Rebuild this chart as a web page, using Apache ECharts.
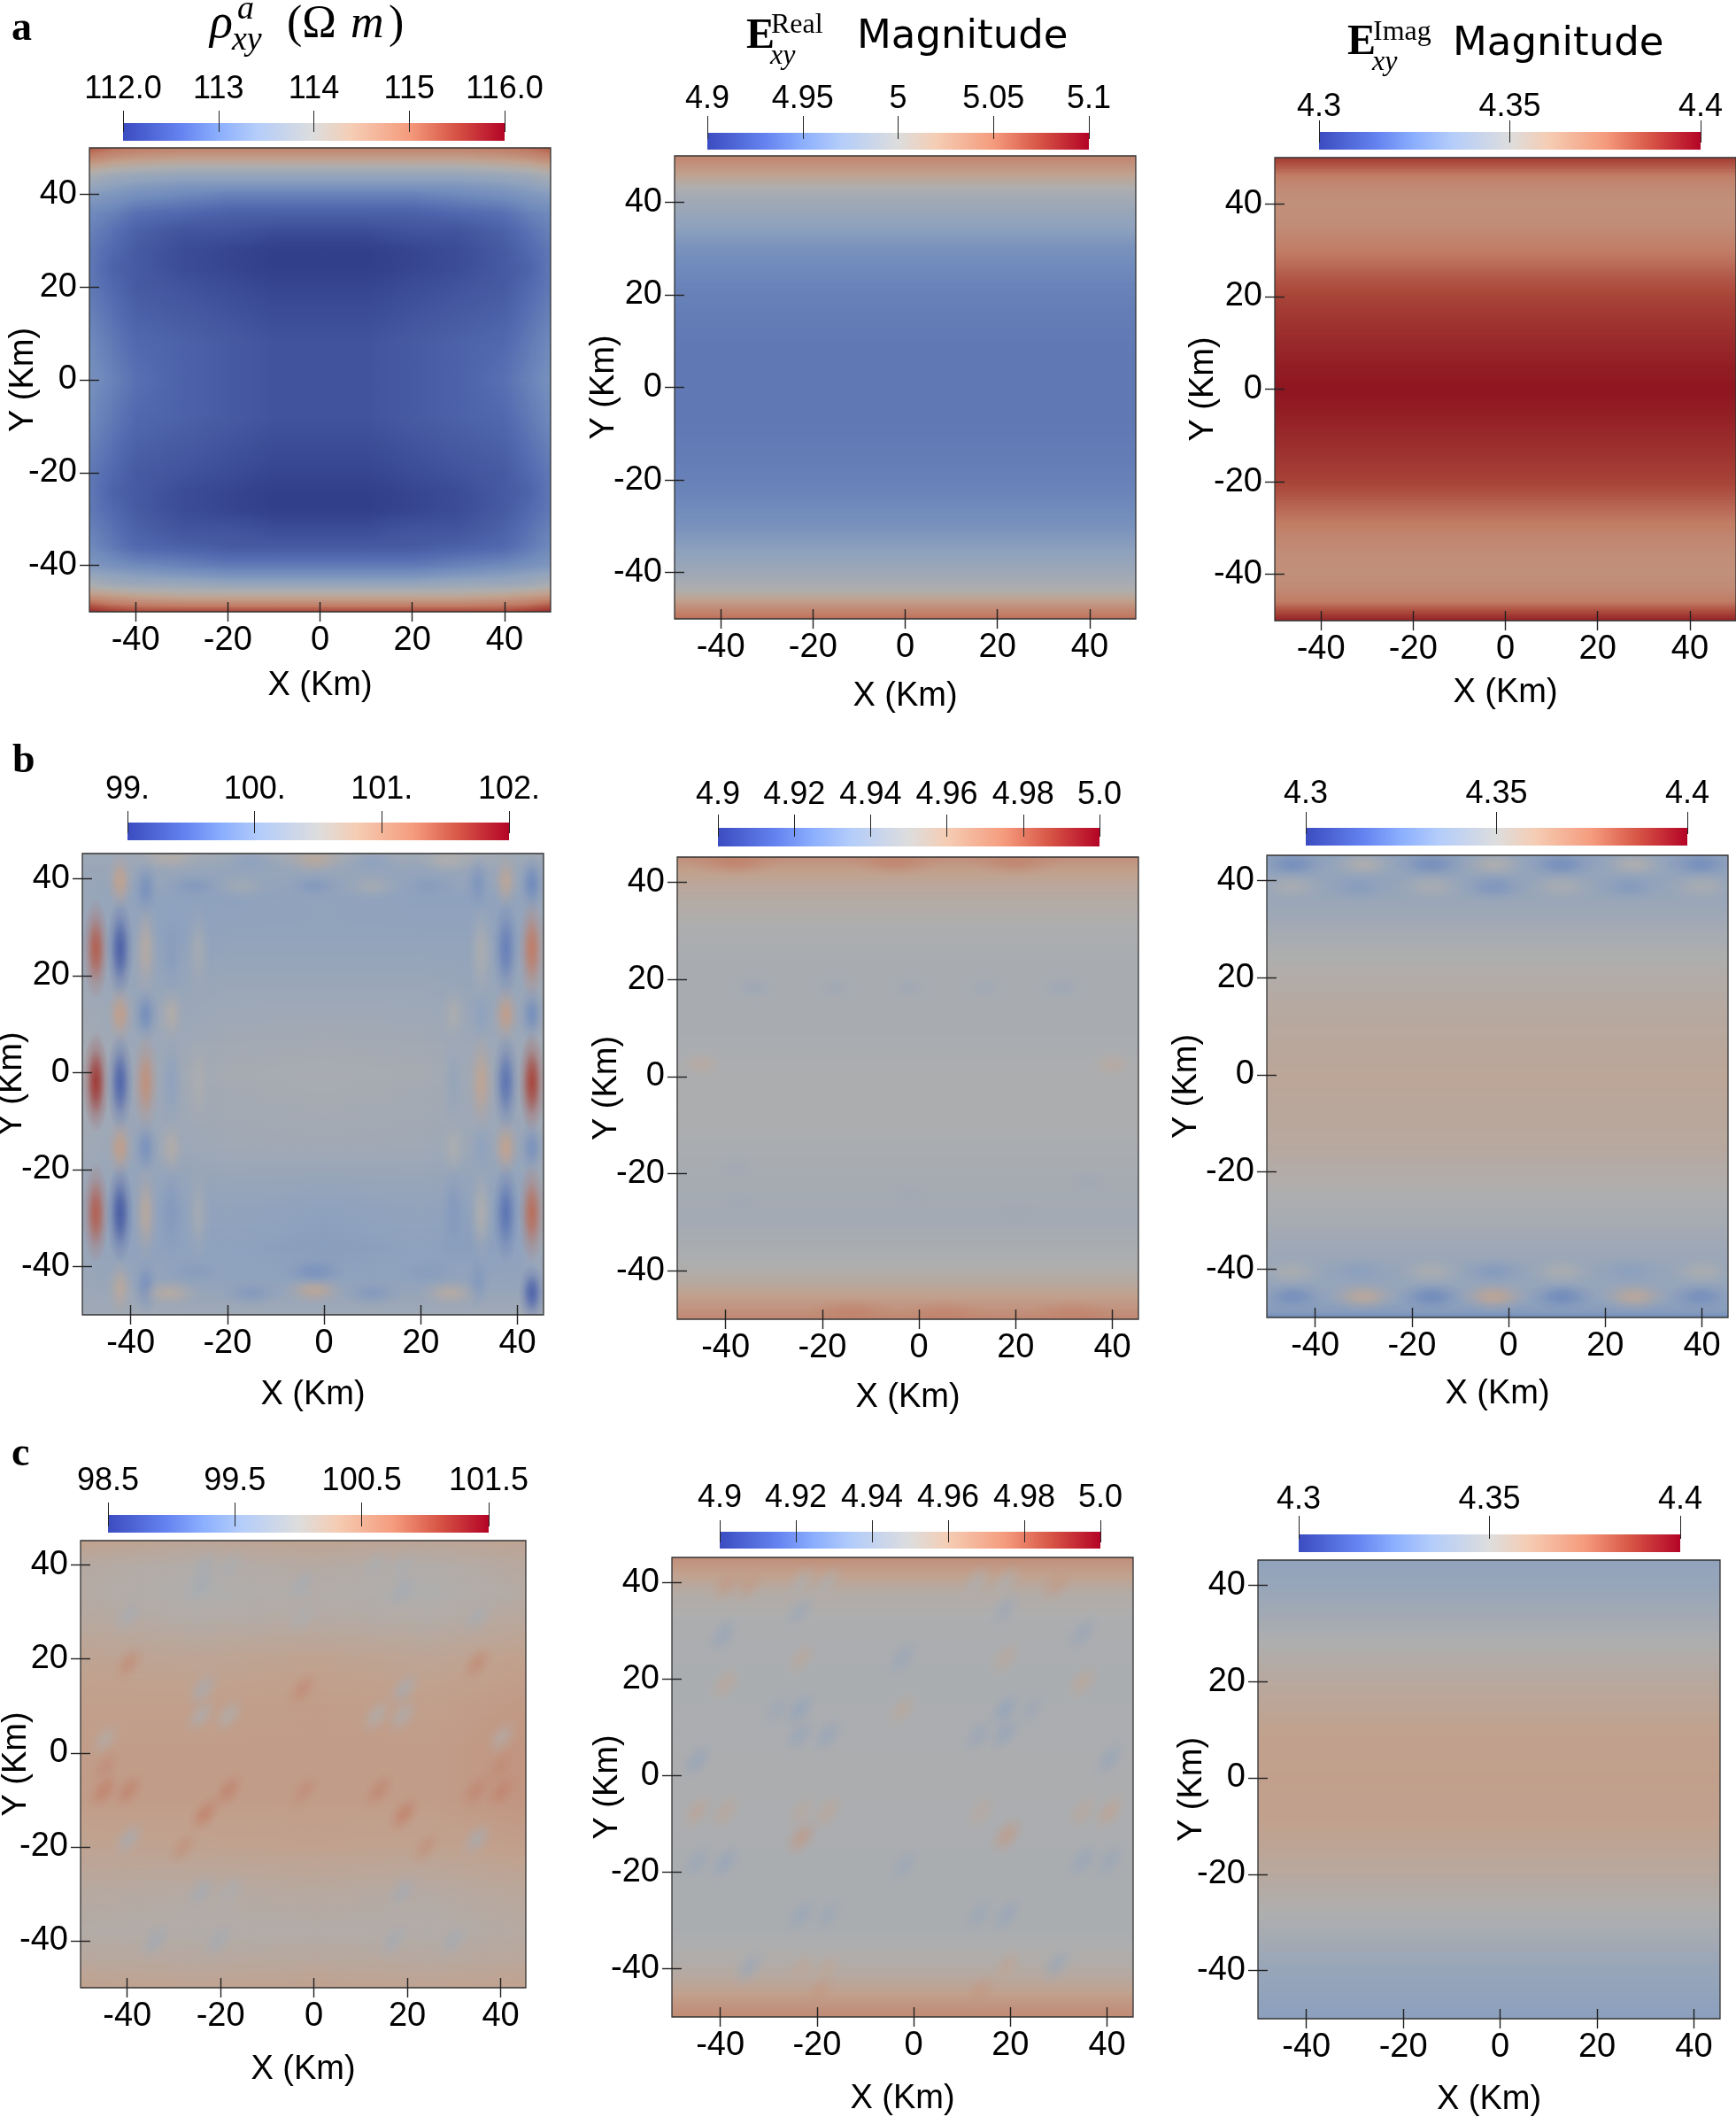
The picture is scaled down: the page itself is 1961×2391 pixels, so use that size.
<!DOCTYPE html>
<html><head><meta charset="utf-8">
<style>html,body{margin:0;padding:0;background:#fff}#c{width:1961px;height:2391px}</style>
<script src="https://cdn.jsdelivr.net/npm/echarts@6/dist/echarts.min.js"></script>
</head><body><div id="c"></div>
<script>
/* ---------- shared tick values ---------- */
const axisTicks=[-40,-20,0,20,40];
/* ---------- row a ---------- */
const a1X=[-50,-45,-40,-30,-20,-10,0,10,20,30,40,45,50];
const a1Y=[50,48,46,44,42,40,36,32,28,24,20,14,8,0,-8,-14,-20,-24,-28,-32,-36,-40,-42,-44,-46,-48,-50];
const a1V=[
[115.3,115.1,115.0,114.9,114.9,114.9,114.9,114.9,114.9,114.9,115.0,115.1,115.3],
[114.9,114.7,114.6,114.5,114.5,114.5,114.5,114.5,114.5,114.5,114.6,114.7,114.9],
[114.4,114.2,114.1,114.0,114.0,114.0,114.0,114.0,114.0,114.0,114.1,114.2,114.4],
[113.9,113.7,113.6,113.5,113.5,113.5,113.5,113.5,113.5,113.5,113.6,113.7,113.9],
[113.6,113.4,113.3,113.2,113.2,113.2,113.2,113.2,113.2,113.2,113.3,113.4,113.6],
[113.3,113.2,113.1,113.0,112.9,112.9,112.9,112.9,112.9,113.0,113.1,113.2,113.3],
[113.0,112.9,112.7,112.6,112.5,112.5,112.5,112.5,112.5,112.6,112.7,112.9,113.0],
[112.9,112.7,112.5,112.3,112.3,112.2,112.2,112.2,112.3,112.3,112.5,112.7,112.9],
[112.8,112.6,112.4,112.2,112.1,112.0,112.0,112.0,112.1,112.2,112.4,112.6,112.8],
[112.8,112.5,112.4,112.2,112.1,112.0,112.0,112.0,112.1,112.2,112.4,112.5,112.8],
[112.8,112.6,112.4,112.3,112.2,112.1,112.1,112.1,112.2,112.3,112.4,112.6,112.8],
[112.9,112.7,112.5,112.4,112.3,112.2,112.2,112.2,112.3,112.4,112.5,112.7,112.9],
[113.0,112.8,112.6,112.5,112.4,112.3,112.3,112.3,112.4,112.5,112.6,112.8,113.0],
[113.1,112.9,112.7,112.5,112.4,112.3,112.3,112.3,112.4,112.5,112.7,112.9,113.1],
[113.0,112.8,112.6,112.5,112.4,112.3,112.3,112.3,112.4,112.5,112.6,112.8,113.0],
[112.9,112.7,112.5,112.4,112.3,112.2,112.2,112.2,112.3,112.4,112.5,112.7,112.9],
[112.8,112.6,112.4,112.3,112.2,112.1,112.1,112.1,112.2,112.3,112.4,112.6,112.8],
[112.8,112.5,112.4,112.2,112.1,112.0,112.0,112.0,112.1,112.2,112.4,112.5,112.8],
[112.8,112.6,112.4,112.2,112.1,112.0,112.0,112.0,112.1,112.2,112.4,112.6,112.8],
[112.9,112.7,112.5,112.3,112.3,112.2,112.2,112.2,112.3,112.3,112.5,112.7,112.9],
[113.0,112.8,112.6,112.5,112.4,112.4,112.4,112.4,112.4,112.5,112.6,112.8,113.0],
[113.2,113.1,113.0,112.9,112.8,112.8,112.8,112.8,112.8,112.9,113.0,113.1,113.2],
[113.5,113.4,113.3,113.2,113.1,113.1,113.1,113.1,113.1,113.2,113.3,113.4,113.5],
[113.9,113.7,113.6,113.6,113.5,113.5,113.5,113.5,113.5,113.6,113.6,113.7,113.9],
[114.4,114.3,114.2,114.1,114.1,114.1,114.1,114.1,114.1,114.1,114.2,114.3,114.4],
[115.1,114.9,114.8,114.7,114.7,114.7,114.7,114.7,114.7,114.7,114.8,114.9,115.1],
[115.8,115.6,115.5,115.5,115.5,115.5,115.5,115.5,115.5,115.5,115.5,115.6,115.8]];
const edgeX=[-50,50];
const a2Y=[50,48,46,44,42,40,37,34,30,26,22,16,8,0,-8,-16,-22,-26,-30,-34,-37,-40,-42,-44,-46,-48,-50];
const a2V=[5.044,5.032,5.020,5.006,4.994,4.986,4.976,4.968,4.956,4.950,4.946,4.942,4.940,4.940,4.940,4.942,4.946,4.950,4.956,4.966,4.974,4.984,4.992,5.002,5.020,5.040,5.056];
const a3Y=[50,48,46,44,42,40,36,32,28,24,20,16,10,5,0,-5,-10,-16,-20,-24,-28,-32,-36,-40,-43,-46,-48,-50];
const a3V=[4.390,4.382,4.374,4.370,4.368,4.367,4.368,4.372,4.377,4.383,4.388,4.391,4.395,4.398,4.400,4.398,4.395,4.391,4.388,4.382,4.376,4.371,4.368,4.367,4.369,4.375,4.386,4.397];
/* ---------- row b ---------- */
const bEdgeX=[-50,45.4];
const b1X=[-50,-40,-30,-20,0,20,30,40,45.4];
const b1Y=[45.2,42,36,28,15,0,-15,-28,-36,-42,-50];
const b1V=[
[100.3,100.3,100.4,100.3,100.4,100.3,100.4,100.3,100.3],
[100.2,100.2,100.2,100.15,100.2,100.15,100.2,100.2,100.2],
[100.2,100.1,100.05,100.05,100.1,100.05,100.05,100.1,100.2],
[100.2,100.1,100.05,100.1,100.1,100.1,100.1,100.1,100.3],
[100.3,100.2,100.2,100.25,100.25,100.25,100.2,100.2,100.3],
[100.4,100.25,100.3,100.38,100.42,100.38,100.3,100.25,100.4],
[100.3,100.2,100.25,100.3,100.32,100.3,100.25,100.2,100.3],
[100.2,100.05,100.05,100.1,100.05,100.1,100.05,100.05,100.3],
[100.2,100.05,100.05,100.05,100.0,100.05,100.0,100.05,100.3],
[100.2,100.15,100.1,100.05,100.05,100.05,100.1,100.1,100.2],
[100.3,100.3,100.3,100.3,100.3,100.3,100.3,100.3,100.3]];
/* tall main lobes */
const b1Tall=[[-47.2,25.5,101.45],[-47.2,-2,101.75],[-47.2,-29,101.45],[43,25.5,101.25],[43,-2,101.65],[43,-29,101.35],
[-42.2,25.5,99.35],[-42.2,-2,99.4],[-42.2,-29,99.3],[37.6,25.5,99.65],[37.6,-2,99.55],[37.6,-29,99.55],
[-36.9,25.5,100.6],[-36.9,-2,101.0],[-36.9,-29,100.65],[32.5,25,100.45],[32.5,-2,100.75],[32.5,-29,100.5],
[-31.6,25,100.0],[-31.6,-2,100.05],[-31.6,-29,99.95],[-26,25,100.35],[-26,-2,100.45],[-26,-29,100.35],[26.8,-29,99.95],[26.8,-2,100.15]];
/* short side lobes */
const b1Short=[[-42.2,12,100.85],[-42.2,-15.5,100.85],[-36.9,12,99.8],[-36.9,-15.5,99.85],[-31.6,12,100.55],[-31.6,-15.5,100.55],
[37.6,12,100.85],[37.6,-15.5,100.8],[43,12,99.8],[43,-15.5,99.85],[32.5,12,100.05],[32.5,-15.5,100.05],[26.8,12,100.45],[26.8,-15.5,100.45],
[-42.2,39.5,100.8],[-36.9,38,99.85],[37.6,39.5,100.7],[43,39,99.75],[31.8,39,99.9],
[-42.2,-44.5,100.65],[-36.9,-44,99.85],[43,-45.5,99.4],[31.8,-43,99.95]];
/* flat lobes along top and bottom */
const b1Flat=[[-32,44.5,100.55],[-15,43.5,100.05],[-2,44,100.65],[10,43.5,100.05],[25.6,44,100.5],[-27,38.5,99.95],[-2,38.5,99.95],[21.7,38.5,100.0],[-17,38.5,100.3],[10,38.5,100.35],
[-32,-45.5,100.6],[-15,-45.5,99.95],[-2,-45,100.7],[10,-45.5,99.95],[26,-45.5,100.6],[-27,-41,100.0],[-2,-41,99.85],[21.7,-41,100.0]];
const b2Y=[45.2,43,40,36,30,23,10,0,-10,-22,-30,-38,-42,-45,-48,-50];
const b2V=[4.968,4.962,4.957,4.953,4.949,4.947,4.947,4.949,4.949,4.946,4.945,4.949,4.954,4.960,4.966,4.970];
const b2Spots=[[-34,18.4,4.943],[-17.3,18.4,4.944],[-2,18.4,4.944],[13.5,18.4,4.944],[29.5,18.4,4.943],[-45,2.5,4.954],[40,2.5,4.954],
[-38,-19,4.944],[-2,-24,4.944],[-37,-26,4.944],[35,-22,4.944],[20,-28,4.944]];
const b2Rims=[[-38,44.5,4.972],[-5,44.5,4.971],[20,44.5,4.971],[-14,-49,4.972],[5,-49.5,4.972],[32,-49.5,4.972]];
const b3Y=[45.2,40,36,30,24,15,0,-15,-24,-31,-36,-40,-45,-49,-50];
const b3V=[4.336,4.338,4.340,4.345,4.350,4.354,4.357,4.355,4.350,4.346,4.342,4.339,4.338,4.332,4.325];
const b3Waves=[[-44.6,43.4,4.327],[-16,43.4,4.327],[11,43.4,4.327],[39.7,43.4,4.327],[-30,43.4,4.350],[-3,43.4,4.350],[26,43.4,4.350],
[-31,38.7,4.333],[-3,38.7,4.330],[25,38.7,4.332],[-45,38.7,4.347],[-16,38.7,4.347],[11,38.7,4.347],[40,38.7,4.347],
[-44.6,-45.7,4.327],[-16,-45.7,4.325],[11,-45.7,4.325],[39.7,-45.7,4.327],[-30,-45.7,4.356],[-3,-45.7,4.358],[26,-45.7,4.356],
[-31,-40.5,4.334],[-3,-40.5,4.332],[25,-40.5,4.334],[-45,-40.5,4.348],[-16,-40.5,4.348],[11,-40.5,4.348],[40,-40.5,4.348]];
/* ---------- row c ---------- */
const c1X=[-50,-25,0,25,45.4];
const c1Y=[45.2,40,34,28,20,10,0,-10,-20,-30,-38,-44,-50];
const c1V=[
[100.30,100.22,100.26,100.22,100.26],
[100.12,100.05,100.12,100.05,100.15],
[100.10,100.00,100.05,100.00,100.10],
[100.15,100.08,100.12,100.08,100.18],
[100.27,100.24,100.28,100.24,100.32],
[100.33,100.33,100.36,100.33,100.40],
[100.36,100.36,100.36,100.36,100.45],
[100.36,100.36,100.36,100.36,100.45],
[100.27,100.28,100.30,100.28,100.34],
[100.13,100.10,100.14,100.10,100.18],
[100.08,100.05,100.07,100.05,100.12],
[100.16,100.14,100.16,100.14,100.18],
[100.30,100.27,100.30,100.27,100.30]];
const c1Blobs=[[-23.8,13.6,99.9],[-24.2,8,99.95],[-18.3,8,100.0],[19.3,13.6,99.9],[19,8,99.95],[13.5,8,100.0],[-39.7,29.4,99.9],[-24,36,99.85],[-23.5,39.7,99.9],[-18,39.7,99.95],[19,34.6,99.85],[19,39.7,99.95],[13,39.7,99.95],[35,29,99.9],[-44.7,2.9,100.05],[40.3,3.3,100.05],[-39.7,-18.4,99.9],[34.9,-18.4,99.9],[-24,-29.5,99.85],[-18,-29.5,99.95],[19,-29.5,99.85],[-34,-40,99.8],[-20.6,-40,99.85],[17,-40,99.85],[29.8,-40,99.85],[-2.4,29,99.95],[-2.4,36,99.9],
[-23.4,-13,100.72],[-45,-8,100.72],[-39.7,-8,100.68],[-18.3,-8,100.68],[19.3,-13,100.72],[14,-8,100.64],[34.8,-8,100.64],[40.3,-8,100.68],[-2.4,13.6,100.58],[-39.7,19,100.55],[35,19,100.58],[-28,-20,100.5],[24,-20,100.5],[-44.7,-3,100.55],[40,-3,100.58],[-2,-8,100.55]];
const c2Y=[45.2,42,38,32,20,0,-20,-32,-38,-42,-45,-48,-50];
const c2V=[4.968,4.961,4.953,4.949,4.948,4.949,4.948,4.948,4.951,4.955,4.960,4.966,4.969];
const c2Blobs=[[-23.6,13.7,4.936],[-23.6,8.4,4.939],[-17.8,8.4,4.939],[18.9,13.7,4.936],[18.9,8.8,4.938],[13.5,8.4,4.940],[-39.4,29.2,4.939],[-44.8,3.1,4.938],[40.5,3.5,4.939],[-39,-18,4.938],[-44.8,-18,4.940],[35,-17.7,4.939],[40.5,-17.7,4.940],[-23.2,-28.8,4.939],[-17.8,-28.8,4.941],[19.3,-28.8,4.939],[13.5,-28.8,4.941],[-2.4,24.3,4.940],[-2,-18.6,4.941],[35,29.6,4.940],[-34,-39.6,4.941],[29.7,-39,4.941],[-28.2,13.7,4.942],[24.3,13.7,4.942],[-23.6,34,4.942],[18.9,34.5,4.942],
[-23.2,-12.8,4.964],[19.3,-12.4,4.963],[-44.8,-7.5,4.958],[-39,-7.5,4.957],[-23.2,-7.5,4.955],[-17.8,-7.5,4.957],[13.9,-7.5,4.955],[35,-7.5,4.956],[40.5,-7.5,4.959],[-39,19,4.957],[35,19.5,4.957],[-2.4,13.7,4.956],[-23.2,24.3,4.956],[18.9,24.3,4.956],[-38.6,39.8,4.963],[-34,40,4.963],[29.7,40,4.963],[-23.2,40,4.950],[-18,39.8,4.950],[13,40,4.950],[19,40,4.950],[-23.2,-40,4.957],[-18,-40,4.957],[19.3,-39.5,4.958],[13.6,-45,4.964],[-19.6,-45,4.964]];
const c3Y=[45.2,40,34,28,20,10,0,-10,-20,-28,-34,-40,-46,-50];
const c3V=[4.336,4.339,4.344,4.350,4.355,4.360,4.361,4.360,4.355,4.350,4.345,4.339,4.336,4.334];
/* ---------- colour bars ---------- */
const barRangeA1=[112,116],barTicksA1=[112,113,114,115,116],barLabelsA1=['112.0','113','114','115','116.0'];
const barRangeA2=[4.9,5.1],barTicksA2=[4.9,4.95,5,5.05,5.1],barLabelsA2=['4.9','4.95','5','5.05','5.1'];
const barRangeE=[4.3,4.4],barTicksE=[4.3,4.35,4.4],barLabelsE=['4.3','4.35','4.4'];
const barRangeB1=[99,102],barTicksB1=[99,100,101,102],barLabelsB1=['99.','100.','101.','102.'];
const barRangeM=[4.9,5.0],barTicksM=[4.9,4.92,4.94,4.96,4.98,5.0],barLabelsM=['4.9','4.92','4.94','4.96','4.98','5.0'];
const barRangeC1=[98.5,101.5],barTicksC1=[98.5,99.5,100.5,101.5],barLabelsC1=['98.5','99.5','100.5','101.5'];

/* ---------- colour map ---------- */
const STOPS=[[0,[59,76,192]],[.15,[100,130,240]],[.25,[140,175,254]],[.35,[180,205,250]],[.5,[221,221,221]],[.6,[245,205,180]],[.75,[245,155,125]],[.87,[215,85,70]],[1,[180,4,38]]];
function cmap(t){t=Math.max(0,Math.min(1,t));for(let i=1;i<STOPS.length;i++){if(t<=STOPS[i][0]){const a=STOPS[i-1],b=STOPS[i],f=(t-a[0])/(b[0]-a[0]);return a[1].map((v,k)=>v+(b[1][k]-v)*f);}}return STOPS[STOPS.length-1][1];}
/* the surface in the plots is shaded: the same colour map, dimmed and slightly desaturated */
function lit(t,al){const c=cmap(t);const m=.77;const s=c.map(v=>v*m+4);
  if(c[2]>c[0])s[2]-=(c[2]-c[0])*.1;
  if(t>.85)s[1]+=(t-.85)*100;
  const q=s.map(Math.round);return al===undefined?`rgb(${q})`:`rgba(${q},${al})`;}
const G=echarts.graphic;

/* ---------- panels (layout in pixels) ---------- */
const P=[
{g:[101,167,521,524],dx:[-50,50],dy:[-50,50],X:a1X,Y:a1Y,V:a1V,r:barRangeA1,bar:[139,139,431,20],ti:10,tu:14,ll:40,bt:barTicksA1,bl:barLabelsA1,xg:85,yg:75},
{g:[762,176,521,523],dx:[-50,50],dy:[-50,50],X:edgeX,Y:a2Y,V:a2V,r:barRangeA2,bar:[799,150,431,19],ti:7,tu:19,ll:40,bt:barTicksA2,bl:barLabelsA2,xg:89,yg:80},
{g:[1440,178,521,523],dx:[-50,50],dy:[-50,50],X:edgeX,Y:a3Y,V:a3V,r:barRangeE,bar:[1490,149,431,20],ti:12,tu:13,ll:30,bt:barTicksE,bl:barLabelsE,xg:83,yg:81},
{g:[93,964,521,521],dx:bEdgeX,dy:[-50,45.2],X:b1X,Y:b1Y,V:b1V,r:barRangeB1,bar:[144,929,431,20],ti:12,tu:13,ll:39,bt:barTicksB1,bl:barLabelsB1,xg:92,yg:80,
  L:[{d:b1Tall,rx:2.8,ry:10.5,tilt:0,a:1},{d:b1Short,rx:2.8,ry:6,tilt:0,a:1},{d:b1Flat,rx:6.5,ry:3,tilt:0,a:1}]},
{g:[765,968,521,522],dx:bEdgeX,dy:[-50,45.2],X:edgeX,Y:b2Y,V:b2V,r:barRangeM,bar:[811,935,431,21],ti:10,tu:15,ll:39,bt:barTicksM,bl:barLabelsM,xg:90,yg:80,
  L:[{d:b2Spots,rx:5,ry:3,tilt:0,a:1},{d:b2Rims,rx:10,ry:3.5,tilt:0,a:1}]},
{g:[1431,966,521,522],dx:bEdgeX,dy:[-50,45.2],X:edgeX,Y:b3Y,V:b3V,r:barRangeE,bar:[1475,935,431,20],ti:7,tu:18,ll:40,bt:barTicksE,bl:barLabelsE,xg:88,yg:91,
  L:[{d:b3Waves,rx:7.5,ry:3.2,tilt:0,a:1}]},
{g:[91,1740,503,505],dx:bEdgeX,dy:[-50,45.2],X:c1X,Y:c1Y,V:c1V,r:barRangeC1,bar:[122,1711,430,20],ti:13,tu:14,ll:40,bt:barTicksC1,bl:barLabelsC1,xg:94,yg:73,
  L:[{d:c1Blobs,rx:3,ry:5,tilt:-.65,a:.72}]},
{g:[759,1759,521,519],dx:bEdgeX,dy:[-50,45.2],X:edgeX,Y:c2Y,V:c2V,r:barRangeM,bar:[813,1730,430,19],ti:12,tu:13,ll:40,bt:barTicksM,bl:barLabelsM,xg:94,yg:73,
  L:[{d:c2Blobs,rx:3,ry:5,tilt:-.65,a:.72}]},
{g:[1421,1762,522,518],dx:bEdgeX,dy:[-50,45.2],X:edgeX,Y:c3Y,V:c3V,r:barRangeE,bar:[1467,1733,431,20],ti:5,tu:21,ll:41,bt:barTicksE,bl:barLabelsE,xg:93,yg:75}
];

const FS=38,FF='"Liberation Sans",Arial,sans-serif';
const grid=[],xAxis=[],yAxis=[],series=[];
P.forEach(p=>{
  const gi=grid.length;
  grid.push({left:p.g[0],top:p.g[1],width:p.g[2],height:p.g[3],outerBoundsMode:'none'});
  const axisCommon={type:'value',splitLine:{show:false},axisLine:{show:false,onZero:false},z:10,nameMoveOverlap:false,
    axisTick:{show:true,length:22,customValues:axisTicks,lineStyle:{color:'#222',width:1.4}},
    nameLocation:'middle',nameTextStyle:{fontSize:FS,fontFamily:FF,color:'#000'},
    axisLabel:{customValues:axisTicks,fontSize:FS,fontFamily:FF,color:'#000'}};
  xAxis.push({...axisCommon,gridIndex:gi,position:'bottom',offset:-11,min:p.dx[0],max:p.dx[1],name:'X (Km)',nameGap:p.xg+11-20,
    axisLabel:{...axisCommon.axisLabel,margin:25}});
  yAxis.push({...axisCommon,gridIndex:gi,position:'left',offset:-11,min:p.dy[0],max:p.dy[1],name:'Y (Km)',nameGap:p.yg+11-20,
    axisLabel:{...axisCommon.axisLabel,margin:25}});
  const cells=[];
  for(let r=0;r<p.Y.length-1;r++)for(let c=0;c<p.X.length-1;c++){
    const v=(i,j)=>Array.isArray(p.V[i])?p.V[i][j]:p.V[i];
    cells.push([p.X[c],p.Y[r],p.X[c+1],p.Y[r+1],v(r,c),v(r,c+1),v(r+1,c),v(r+1,c+1)]);
  }
  const T=v=>(v-p.r[0])/(p.r[1]-p.r[0]);
  const base={type:'custom',coordinateSystem:'cartesian2d',xAxisIndex:gi,yAxisIndex:gi,silent:true,animation:false,clip:true};
  series.push({...base,data:cells,encode:{x:[0,2],y:[1,3]},renderItem:(pr,api)=>{
    const a=api.coord([api.value(0),api.value(1)]),b=api.coord([api.value(2),api.value(3)]);
    const v=[4,5,6,7].map(i=>api.value(i));
    const h=b[1]-a[1],n=Math.max(1,Math.ceil(h/3)),ch=[];
    for(let i=0;i<n;i++){
      const f=(i+.5)/n,L=v[0]+(v[2]-v[0])*f,R=v[1]+(v[3]-v[1])*f;
      const fill=L===R?lit(T(L)):new G.LinearGradient(0,0,1,0,[{offset:0,color:lit(T(L))},{offset:.5,color:lit(T((L+R)/2))},{offset:1,color:lit(T(R))}]);
      ch.push({type:'rect',silent:true,shape:{x:a[0],y:a[1]+h*i/n,width:b[0]-a[0]+1,height:h/n+1},style:{fill}});
    }
    return {type:'group',children:ch};
  }});
  (p.L||[]).forEach(l=>{
    series.push({...base,data:l.d,encode:{x:0,y:1},renderItem:(pr,api)=>{
      const c=api.coord([api.value(0),api.value(1)]),t=T(api.value(2));
      const s=api.size([l.rx,l.ry]);
      return {type:'circle',silent:true,shape:{cx:0,cy:0,r:1},x:c[0],y:c[1],scaleX:s[0],scaleY:s[1],rotation:l.tilt,
        style:{fill:new G.RadialGradient(.5,.5,.5,[{offset:0,color:lit(t,.95*l.a)},{offset:.3,color:lit(t,.72*l.a)},{offset:.65,color:lit(t,.25*l.a)},{offset:1,color:lit(t,0)}])}};
    }});
  });
  series.push({...base,z:5,clip:false,data:[[p.dx[0],p.dy[1],p.dx[1],p.dy[0]]],encode:{x:[0,2],y:[1,3]},renderItem:(pr,api)=>{
    const a=api.coord([api.value(0),api.value(1)]),b=api.coord([api.value(2),api.value(3)]);
    return {type:'rect',silent:true,shape:{x:a[0],y:a[1],width:b[0]-a[0],height:b[1]-a[1]},style:{fill:'none',stroke:'#333',lineWidth:1.3}};
  }});
  /* colour bar */
  const bi=grid.length;
  grid.push({left:p.bar[0],top:p.bar[1],width:p.bar[2],height:p.bar[3],outerBoundsMode:'none'});
  const lab=p.bl,tk=p.bt;
  xAxis.push({type:'value',gridIndex:bi,position:'top',offset:-p.ti,min:p.r[0],max:p.r[1],splitLine:{show:false},axisLine:{show:false,onZero:false},z:10,
    axisTick:{show:true,length:p.ti+p.tu,customValues:tk,lineStyle:{color:'#222',width:1}},
    axisLabel:{customValues:tk,fontSize:36,fontFamily:FF,color:'#000',margin:p.ll+p.ti-20,
      formatter:v=>{let b=0;tk.forEach((x,i)=>{if(Math.abs(x-v)<Math.abs(tk[b]-v))b=i;});return lab[b];}}});
  yAxis.push({type:'value',gridIndex:bi,min:0,max:1,show:false});
  series.push({type:'custom',coordinateSystem:'cartesian2d',xAxisIndex:bi,yAxisIndex:bi,silent:true,animation:false,
    data:[[p.r[0],1,p.r[1],0]],encode:{x:[0,2],y:[1,3]},renderItem:(pr,api)=>{
      const a=api.coord([api.value(0),api.value(1)]),b=api.coord([api.value(2),api.value(3)]);
      return {type:'rect',silent:true,shape:{x:a[0],y:a[1],width:b[0]-a[0],height:b[1]-a[1]},
        style:{fill:new G.LinearGradient(0,0,1,0,STOPS.map(s=>({offset:s[0],color:`rgb(${s[1]})`})))}};
    }});
});

const SER='"Liberation Serif",serif',SANS='"DejaVu Sans",sans-serif';
const txt=(text,x,y,font,extra)=>({type:'text',x,y,z:20,silent:true,style:Object.assign({text,font,fill:'#000',align:'left',verticalAlign:'middle'},extra||{})});
const elements=[
 txt('a',13,33,'bold 46px '+SER),txt('b',14,860,'bold 46px '+SER),txt('c',13,1643,'bold 46px '+SER),
 txt('ρ',237,28,'italic 54px '+SER),txt('a',268,11,'italic 38px '+SER),txt('xy',262,46,'italic 38px '+SER),
 txt('(Ω',324,28,'52px '+SER),txt('m',396,28,'italic 52px '+SER),txt(')',439,28,'52px '+SER),
 txt('E',843,42,'bold 48px '+SER),txt('Real',871,29,'32px '+SER),txt('xy',870,64,'italic 32px '+SER),txt('Magnitude',968,42,'45px '+SANS),
 txt('E',1522,49,'bold 48px '+SER),txt('Imag',1551,37,'32px '+SER),txt('xy',1550,71,'italic 32px '+SER),txt('Magnitude',1641,50,'45px '+SANS)
];
const chart=echarts.init(document.getElementById('c'),null,{renderer:'canvas'});
chart.setOption({animation:false,backgroundColor:'#fff',grid,xAxis,yAxis,series,graphic:{elements}});
</script></body></html>
